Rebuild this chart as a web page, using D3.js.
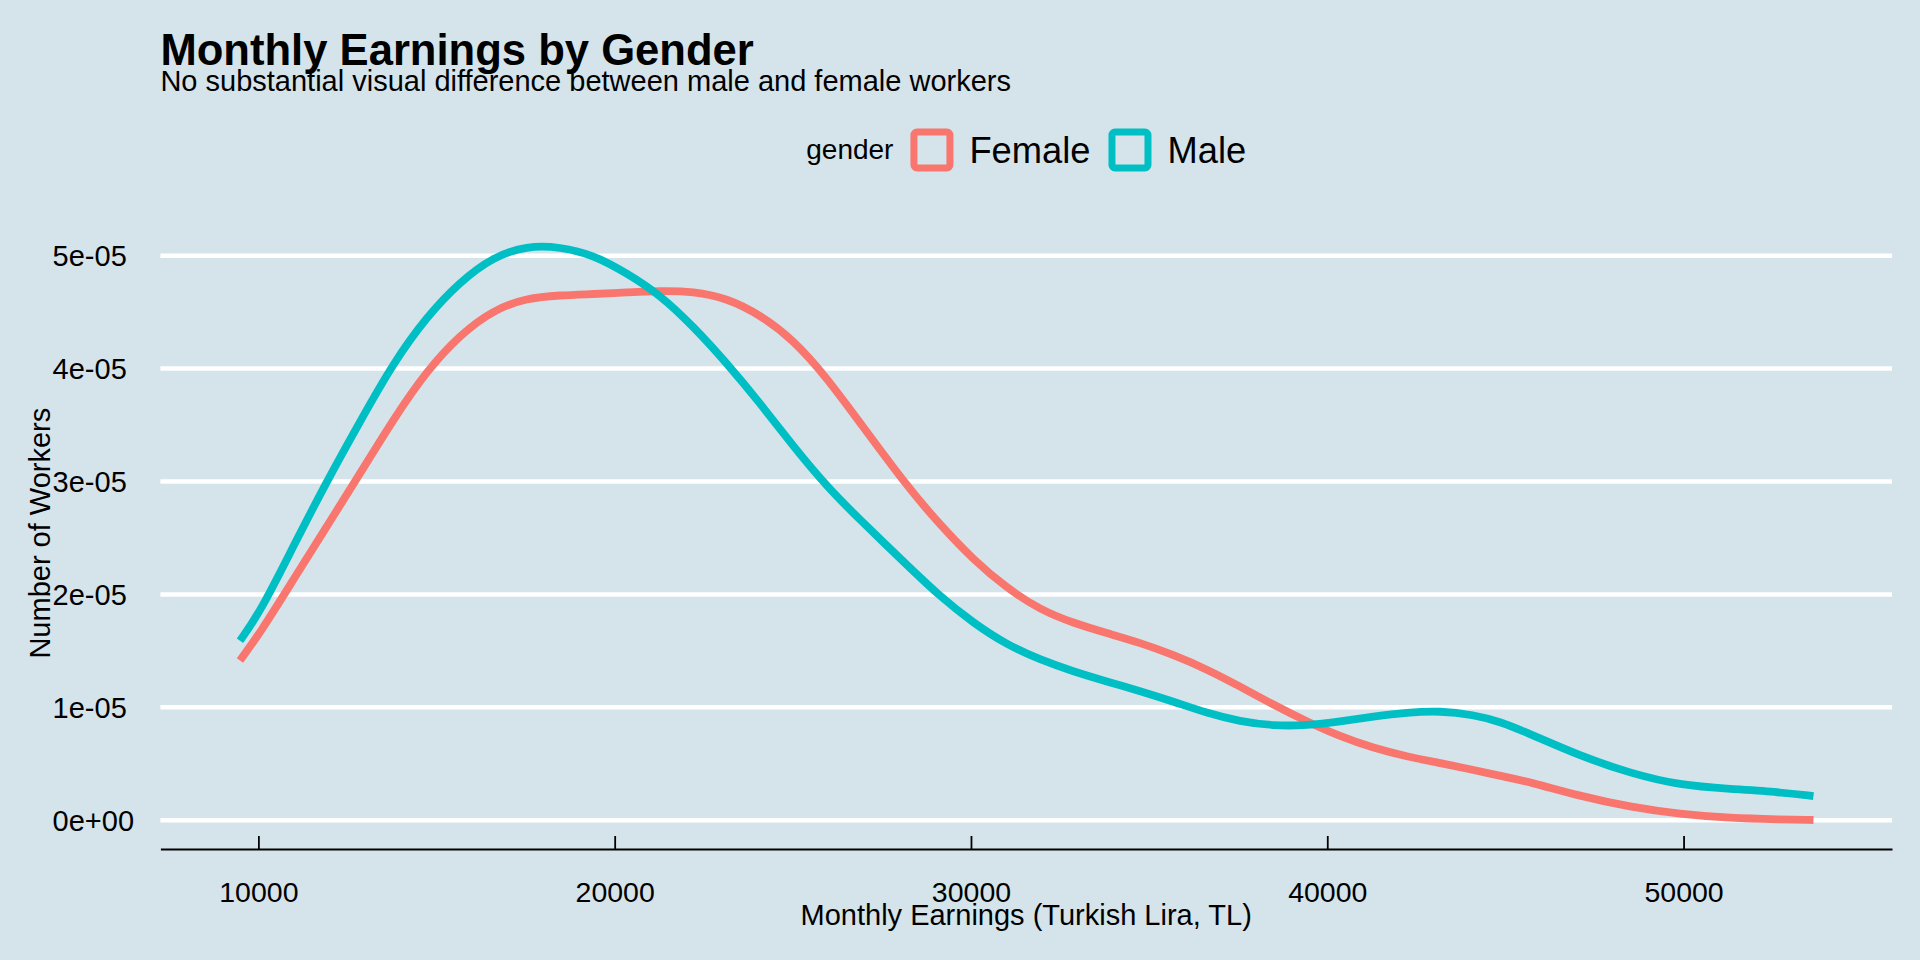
<!DOCTYPE html>
<html>
<head>
<meta charset="utf-8">
<script src="https://cdn.jsdelivr.net/npm/d3@7"></script>
<style>
  html, body { margin: 0; padding: 0; background: #d5e4eb; }
  svg { display: block; font-family: "Liberation Sans", Arial, sans-serif; }
</style>
</head>
<body>
<div class="chart"></div>
<script>
// earnings grid (TL), shared by both density curves
const earnings = [9483, 10045, 10980, 11917, 12852, 13787, 14724, 15659, 16594, 17531,
  18466, 19401, 20338, 21273, 22208, 23145, 24080, 25015, 25952, 26887,
  28198, 29133, 30068, 31005, 31940, 32874, 33812, 34746, 35681, 36619,
  37554, 38488, 39426, 40361, 41295, 42233, 43168, 44103, 44850, 45694,
  47097, 48501, 49904, 51308, 52711, 53646];

const female = [1.415e-5, 1.657e-5, 2.13e-5, 2.60e-5, 3.07e-5, 3.55e-5, 3.98e-5, 4.30e-5, 4.52e-5, 4.625e-5,
  4.65e-5, 4.66e-5, 4.674e-5, 4.689e-5, 4.683e-5, 4.624e-5, 4.477e-5, 4.255e-5, 3.92e-5, 3.52e-5,
  2.96e-5, 2.616e-5, 2.306e-5, 2.056e-5, 1.864e-5, 1.746e-5, 1.657e-5, 1.572e-5, 1.465e-5, 1.338e-5,
  1.184e-5, 1.022e-5, 0.874e-5, 0.741e-5, 0.639e-5, 0.564e-5, 0.506e-5, 0.446e-5, 0.393e-5, 0.338e-5,
  0.213e-5, 0.117e-5, 0.053e-5, 0.018e-5, 0.007e-5, 0.002e-5];

const male = [1.59e-5, 1.84e-5, 2.425e-5, 3.00e-5, 3.53e-5, 4.05e-5, 4.46e-5, 4.77e-5, 4.99e-5, 5.088e-5,
  5.078e-5, 5.008e-5, 4.846e-5, 4.654e-5, 4.373e-5, 4.049e-5, 3.694e-5, 3.31e-5, 2.956e-5, 2.66e-5,
  2.262e-5, 1.981e-5, 1.746e-5, 1.554e-5, 1.421e-5, 1.317e-5, 1.229e-5, 1.143e-5, 1.051e-5, 0.949e-5,
  0.874e-5, 0.836e-5, 0.839e-5, 0.874e-5, 0.918e-5, 0.954e-5, 0.969e-5, 0.934e-5, 0.874e-5, 0.764e-5,
  0.569e-5, 0.416e-5, 0.309e-5, 0.277e-5, 0.249e-5, 0.213e-5];

const genders = ["Female", "Male"];
const colors = ["#F8766D", "#00BFC4"];
const xTicks = [10000, 20000, 30000, 40000, 50000];
const yTicks = [0, 1e-5, 2e-5, 3e-5, 4e-5, 5e-5];
const yTickLabels = ["0e+00", "1e-05", "2e-05", "3e-05", "4e-05", "5e-05"];

const width = 1920, height = 960;
const margin = {top: 217.3, right: 28, bottom: 111, left: 160.4};
const bg = "#d5e4eb";

const svg = d3.select(".chart").append("svg")
    .attr("width", width)
    .attr("height", height)
    .attr("viewBox", [0, 0, width, height]);

svg.append("rect").attr("width", width).attr("height", height).attr("fill", bg);

const x = d3.scaleLinear()
    .domain([7250, 55850])
    .range([margin.left, width - margin.right]);

const y = d3.scaleLinear()
    .domain([-2.55e-6, 5.34e-5])
    .range([height - margin.bottom, margin.top]);

// grid lines
svg.append("g")
  .selectAll("line")
  .data(yTicks)
  .join("line")
    .attr("x1", margin.left)
    .attr("x2", width - margin.right)
    .attr("y1", d => y(d))
    .attr("y2", d => y(d))
    .attr("stroke", "#fff")
    .attr("stroke-width", 4.5);

// y tick labels (left aligned, economist style)
svg.append("g")
    .attr("font-size", 29)
  .selectAll("text")
  .data(yTicks)
  .join("text")
    .attr("x", 52.6)
    .attr("y", d => y(d))
    .attr("dy", "0.36em")
    .attr("fill", "#000")
    .text((d, i) => yTickLabels[i]);

// x axis
const xAxis = svg.append("g")
    .attr("transform", `translate(0,${height - margin.bottom})`)
    .call(d3.axisBottom(x).tickValues(xTicks).tickFormat(d3.format("d"))
      .tickSizeInner(-13).tickSizeOuter(0));

xAxis.attr("font-family", null).attr("font-size", null);
xAxis.select(".domain").attr("stroke", "#000").attr("stroke-width", 2.2);
xAxis.selectAll(".tick line").attr("stroke", "#000").attr("stroke-width", 1.8);
xAxis.selectAll(".tick text")
    .attr("y", 52.7)
    .attr("dy", null)
    .attr("fill", "#000")
    .attr("font-size", 28.5);

// density lines
const series = [female, male];
const line = d3.line()
    .curve(d3.curveBasis)
    .x((d, i) => x(earnings[i]))
    .y(d => y(d));

svg.append("g")
    .attr("fill", "none")
    .attr("stroke-width", 7.8)
    .attr("stroke-linecap", "butt")
    .attr("stroke-linejoin", "round")
  .selectAll("path")
  .data(series)
  .join("path")
    .attr("stroke", (d, i) => colors[i])
    .attr("d", line);

// titles
svg.append("text")
    .attr("x", margin.left)
    .attr("y", 65)
    .attr("font-size", 43.6)
    .attr("font-weight", "bold")
    .attr("fill", "#000")
    .text("Monthly Earnings by Gender");

svg.append("text")
    .attr("x", margin.left)
    .attr("y", 91)
    .attr("font-size", 29)
    .attr("fill", "#000")
    .text("No substantial visual difference between male and female workers");

svg.append("text")
    .attr("x", (margin.left + width - margin.right) / 2)
    .attr("y", 925)
    .attr("text-anchor", "middle")
    .attr("font-size", 29)
    .attr("fill", "#000")
    .text("Monthly Earnings (Turkish Lira, TL)");

svg.append("text")
    .attr("transform", `translate(50,${(margin.top + height - margin.bottom) / 2}) rotate(-90)`)
    .attr("text-anchor", "middle")
    .attr("font-size", 29)
    .attr("fill", "#000")
    .text("Number of Workers");

// legend on top, centred over the panel
const legend = svg.append("g");
const legendTitle = legend.append("text")
    .attr("y", 159)
    .attr("font-size", 28)
    .attr("fill", "#000")
    .text("gender");

const keySize = 43, keyStroke = 7;
let cursor = legendTitle.node().getComputedTextLength() + 17;
genders.forEach((g, i) => {
  legend.append("rect")
      .attr("x", cursor + keyStroke / 2)
      .attr("y", 128.5 + keyStroke / 2)
      .attr("width", keySize - keyStroke)
      .attr("height", keySize - keyStroke)
      .attr("rx", 3)
      .attr("fill", bg)
      .attr("stroke", colors[i])
      .attr("stroke-width", keyStroke);
  cursor += keySize + 16;
  const t = legend.append("text")
      .attr("x", cursor)
      .attr("y", 163)
      .attr("font-size", 36.3)
      .attr("fill", "#000")
      .text(g);
  cursor += t.node().getComputedTextLength() + 18;
});
const legendWidth = cursor - 18;
legend.attr("transform", `translate(${(margin.left + width - margin.right) / 2 - legendWidth / 2},0)`);
</script>
</body>
</html>
